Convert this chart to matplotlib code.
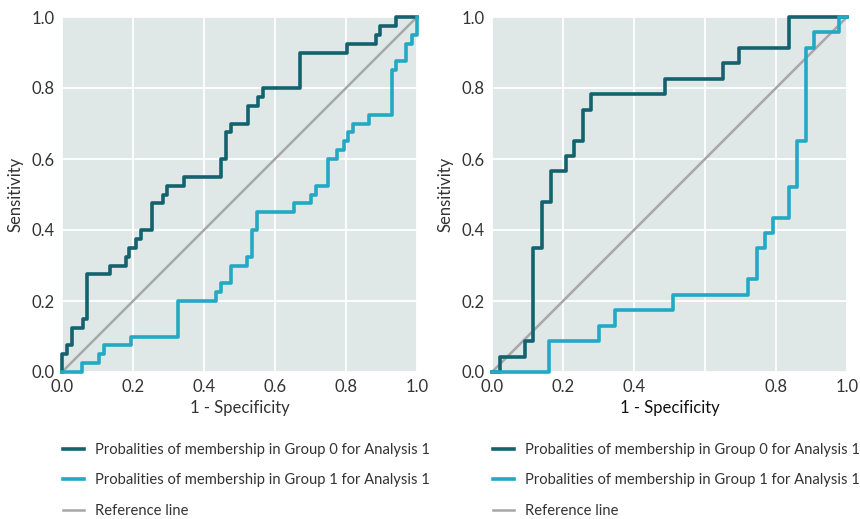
import matplotlib
matplotlib.use("Agg")
import matplotlib.pyplot as plt

# ROC step points (1 - specificity, sensitivity), analysis 1 / left panel
fpr_g0_a = [0, 0, 0.015, 0.027, 0.06, 0.071, 0.135, 0.18, 0.19, 0.208, 0.222, 0.254, 0.284,
            0.297, 0.344, 0.447, 0.461, 0.475, 0.523, 0.551, 0.565, 0.67, 0.804, 0.884,
            0.896, 0.94, 1.0]
tpr_g0_a = [0, 0.05, 0.075, 0.125, 0.15, 0.275, 0.30, 0.325, 0.35, 0.375, 0.40, 0.475, 0.50,
            0.525, 0.55, 0.60, 0.675, 0.70, 0.75, 0.775, 0.80, 0.90, 0.925, 0.95,
            0.975, 1.0, 1.0]
fpr_g1_a = [0, 0.057, 0.104, 0.118, 0.194, 0.328, 0.434, 0.447, 0.475, 0.522, 0.536, 0.548,
            0.654, 0.70, 0.715, 0.748, 0.776, 0.793, 0.807, 0.821, 0.865, 0.929, 0.94,
            0.969, 0.985, 1.0]
tpr_g1_a = [0, 0.025, 0.05, 0.075, 0.10, 0.20, 0.225, 0.25, 0.30, 0.325, 0.40, 0.45,
            0.475, 0.50, 0.525, 0.60, 0.625, 0.65, 0.675, 0.70, 0.725, 0.85, 0.875,
            0.925, 0.95, 1.0]

# right panel
fpr_g0_b = [0, 0.0225, 0.093, 0.116, 0.14, 0.165, 0.208, 0.232, 0.257, 0.278, 0.487, 0.65,
            0.697, 0.837, 1.0]
tpr_g0_b = [0, 0.043, 0.087, 0.348, 0.478, 0.565, 0.609, 0.652, 0.739, 0.783, 0.826, 0.870,
            0.913, 1.0, 1.0]
fpr_g1_b = [0, 0.16, 0.301, 0.346, 0.511, 0.722, 0.746, 0.769, 0.792, 0.837, 0.86, 0.884,
            0.908, 0.977, 1.0]
tpr_g1_b = [0, 0.087, 0.13, 0.174, 0.217, 0.261, 0.348, 0.391, 0.435, 0.522, 0.652, 0.913,
            0.957, 1.0, 1.0]

ticks = [0.0, 0.2, 0.4, 0.6, 0.8, 1.0]
xtick_labels_a = ["0.0", "0.2", "0.4", "0.6", "0.8", "1.0"]
xtick_labels_b = ["0.0", "0.2", "0.4", "", "0.8", "1.0"]
labels = ["Probalities of membership in Group 0 for Analysis 1",
          "Probalities of membership in Group 1 for Analysis 1",
          "Reference line"]

plt.rcParams['font.family'] = ['Lato', 'DejaVu Sans']

dark = "#15626f"
light = "#23a9c3"
grey = "#a7a7a7"
bg = "#dfe8e6"
txt = "#333333"

fig = plt.figure(figsize=(8.6, 5.19), dpi=100)

panels = [
    (62, fpr_g0_a, tpr_g0_a, fpr_g1_a, tpr_g1_a, xtick_labels_a, txt),
    (492, fpr_g0_b, tpr_g0_b, fpr_g1_b, tpr_g1_b, xtick_labels_b, "#111111"),
]

for left_px, f0, t0, f1, t1, xlabs, xlab_color in panels:
    ax = fig.add_axes([left_px / 860, (519 - 372) / 519, 355 / 860, 355 / 519])
    ax.set_facecolor(bg)
    for s in ax.spines.values():
        s.set_visible(False)
    ax.grid(True, color="white", lw=1.3)
    ax.set_axisbelow(True)

    ax.step(f0, t0, where="post", color=dark, lw=2.6, label=labels[0], clip_on=False, zorder=3)
    ax.step(f1, t1, where="post", color=light, lw=2.6, label=labels[1], clip_on=False, zorder=3)
    ax.plot([0, 1], [0, 1], color=grey, lw=1.8, label=labels[2], zorder=2)

    ax.set_xlim(0, 1)
    ax.set_ylim(0, 1)
    ax.set_xticks(ticks)
    ax.set_xticklabels(xlabs)
    ax.set_yticks(ticks)
    ax.set_yticklabels(xtick_labels_a)
    ax.tick_params(axis="x", length=0, pad=5, labelsize=12, labelcolor=txt)
    ax.tick_params(axis="y", length=0, pad=5, labelsize=12, labelcolor=txt)
    ax.set_xlabel("1 - Specificity", fontsize=12, color=xlab_color, labelpad=4)
    ax.set_ylabel("Sensitivity", fontsize=12, color=txt, labelpad=6)

    ax.legend(loc="upper left", bbox_to_anchor=((left_px + 1) / 860, 0.147),
              bbox_transform=fig.transFigure, frameon=False, borderpad=0,
              borderaxespad=0, fontsize=10.6, handlelength=1.45, handletextpad=0.75,
              labelspacing=1.12, labelcolor=txt)

fig.savefig("out.png", dpi=100)
